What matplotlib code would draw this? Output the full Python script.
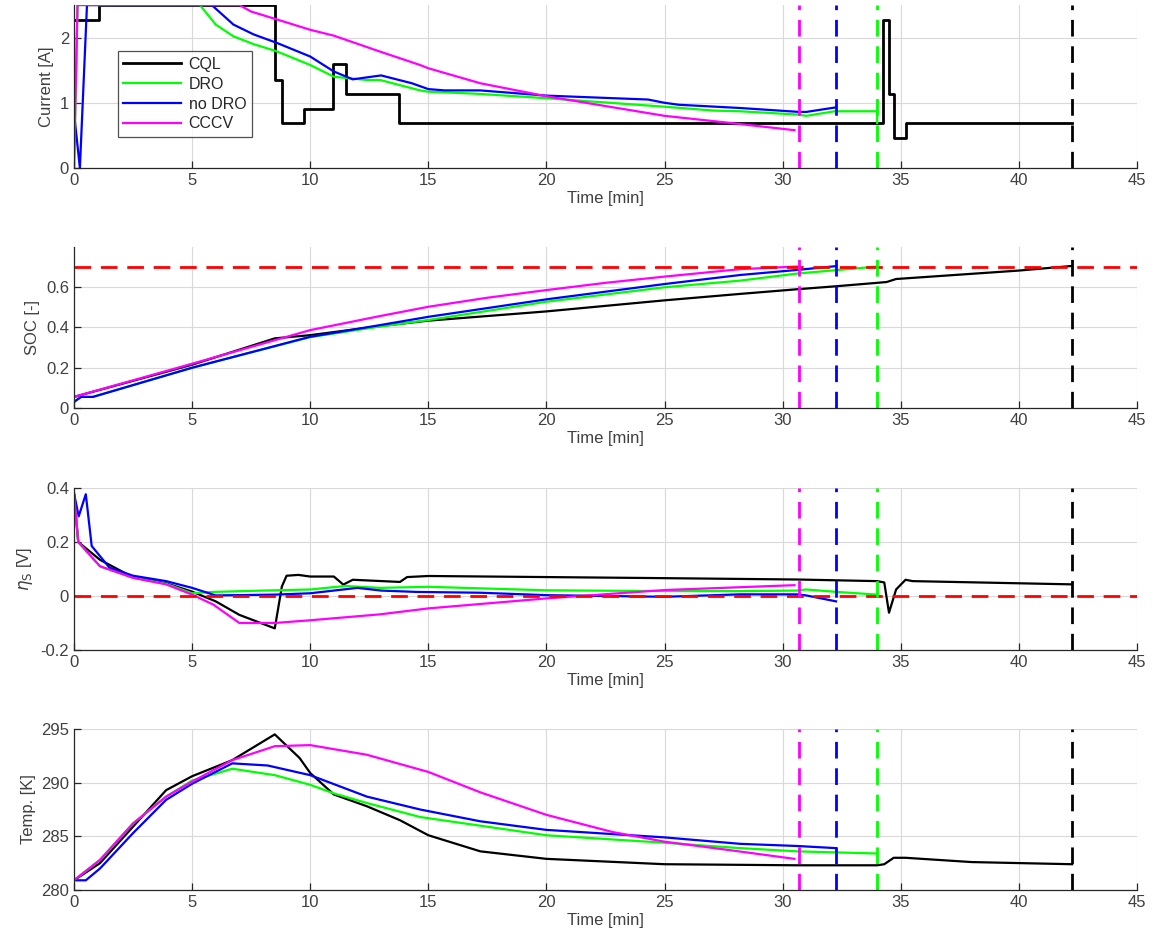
import matplotlib
matplotlib.use("Agg")
import matplotlib.pyplot as plt
from matplotlib.ticker import FormatStrFormatter

plt.rcParams['font.family'] = ['Liberation Sans', 'DejaVu Sans']
plt.rcParams['mathtext.fontset'] = 'dejavusans'
plt.rcParams['axes.unicode_minus'] = False

# ---- data ----
# end-of-charge times [min]
t_end_cccv = 30.68
t_end_nodro = 32.26
t_end_dro = 34.0
t_end_cql = 42.25

# Current [A]
cql_cur_t = [0, 1.05, 8.5, 8.8, 9.75, 10.97, 11.5, 13.76, 34.26, 34.5, 34.73, 35.22, 42.25]
cql_cur = [2.27, 2.5, 1.35, 0.69, 0.9, 1.6, 1.13, 0.69, 2.27, 1.13, 0.46, 0.69, 0.69]
dro_cur_t = [0, 0.15, 5.33, 6.0, 6.75, 7.6, 8.58, 10.0, 11.0, 12.4, 12.96, 14.65, 15.0, 17.0, 20.0, 25.0, 27.1, 28.2, 30.6, 31.0, 32.2, 34.0, 34.0]
dro_cur = [0, 2.5, 2.5, 2.2, 2.02, 1.9, 1.79, 1.58, 1.40, 1.35, 1.35, 1.19, 1.17, 1.14, 1.07, 0.94, 0.88, 0.87, 0.82, 0.80, 0.87, 0.87, 0.69]
nodro_cur_t = [0, 0.25, 0.55, 5.83, 6.75, 7.6, 8.58, 10.0, 11.0, 11.8, 13.0, 14.3, 15.0, 15.7, 17.2, 20.0, 24.3, 25.0, 25.6, 28.2, 30.7, 31.0, 32.26]
nodro_cur = [0.85, 0, 2.5, 2.5, 2.2, 2.05, 1.92, 1.71, 1.48, 1.36, 1.42, 1.30, 1.21, 1.19, 1.19, 1.11, 1.05, 1.0, 0.97, 0.92, 0.86, 0.86, 0.93]
cccv_cur_t = [0, 0.15, 7.0, 7.5, 8.58, 10.0, 11.0, 13.0, 14.65, 15.0, 17.2, 20.0, 22.5, 25.0, 27.8, 30.5]
cccv_cur = [0, 2.5, 2.5, 2.4, 2.28, 2.12, 2.03, 1.78, 1.58, 1.53, 1.30, 1.10, 0.95, 0.80, 0.69, 0.58]

# SOC [-]
cql_soc_t = [0, 5, 8.5, 10, 12.96, 15, 20, 25, 28.2, 30.6, 32.26, 34.0, 34.4, 34.8, 40, 42.25]
cql_soc = [0.055, 0.215, 0.346, 0.362, 0.407, 0.434, 0.48, 0.535, 0.567, 0.59, 0.605, 0.622, 0.626, 0.641, 0.683, 0.706]
dro_soc_t = [0, 0.3, 0.8, 5, 10, 12.96, 15, 20, 25, 28.2, 30.6, 34.0]
dro_soc = [0.03, 0.055, 0.055, 0.20, 0.352, 0.405, 0.437, 0.528, 0.60, 0.633, 0.668, 0.703]
nodro_soc_t = [0, 0.3, 0.8, 5, 10, 12.96, 15, 20, 25, 28.2, 30.6, 32.26]
nodro_soc = [0.03, 0.055, 0.055, 0.20, 0.354, 0.412, 0.453, 0.54, 0.616, 0.661, 0.686, 0.705]
cccv_soc_t = [0, 5, 10, 12.96, 15, 17.5, 20, 22.5, 25, 28.2, 30.6]
cccv_soc = [0.055, 0.22, 0.387, 0.457, 0.503, 0.548, 0.586, 0.622, 0.653, 0.69, 0.703]
soc_target = 0.7

# eta_S [V]
cql_eta_t = [0, 0.18, 1.1, 2.5, 3.9, 5.0, 6.0, 7.0, 8.5, 8.8, 9.0, 9.5, 10.0, 11.0, 11.4, 11.8, 13.8, 14.1, 15.0, 20, 25, 30.6, 34.0, 34.3, 34.5, 34.8, 35.2, 35.5, 42.25]
cql_eta = [0.38, 0.2, 0.134, 0.069, 0.047, 0.016, -0.02, -0.07, -0.12, 0.035, 0.075, 0.078, 0.072, 0.072, 0.042, 0.06, 0.052, 0.07, 0.074, 0.07, 0.066, 0.061, 0.055, 0.05, -0.062, 0.024, 0.06, 0.055, 0.043]
dro_eta_t = [0, 0.18, 1.1, 2.5, 3.9, 5.0, 5.9, 8.0, 10.0, 11.5, 12.96, 15, 20, 25, 28.2, 30.6, 31.0, 32.3, 34.0]
dro_eta = [0.38, 0.2, 0.11, 0.068, 0.045, 0.01, 0.015, 0.02, 0.024, 0.037, 0.03, 0.034, 0.021, 0.018, 0.018, 0.02, 0.024, 0.015, 0.005]
nodro_eta_t = [0, 0.2, 0.5, 0.75, 1.5, 2.5, 3.9, 5.0, 6.0, 8.5, 10, 12, 13, 14.5, 17.2, 20, 25, 28.2, 30.6, 31, 32.26]
nodro_eta = [0.38, 0.295, 0.377, 0.185, 0.105, 0.075, 0.055, 0.03, 0.002, 0.005, 0.01, 0.03, 0.02, 0.015, 0.012, 0.003, -0.003, 0.006, 0.006, 0.002, -0.02]
cccv_eta_t = [0, 0.18, 1.1, 2.5, 3.9, 5.0, 5.9, 7.0, 8.5, 10, 12.96, 15, 20, 25, 30.5]
cccv_eta = [0.38, 0.2, 0.11, 0.067, 0.043, 0.005, -0.032, -0.1, -0.1, -0.09, -0.068, -0.046, -0.009, 0.022, 0.04]

# Temperature [K]
cql_temp_t = [0, 1.1, 2.5, 3.9, 5.0, 6.7, 8.5, 9.55, 10, 11, 12.4, 13.8, 15, 17.2, 20, 25, 30.6, 34.0, 34.3, 34.7, 35.2, 38, 42.25]
cql_temp = [280.9, 282.5, 285.9, 289.3, 290.6, 292.1, 294.5, 292.3, 290.9, 288.9, 287.8, 286.5, 285.1, 283.6, 282.9, 282.4, 282.3, 282.3, 282.4, 283.0, 283.0, 282.6, 282.4]
dro_temp_t = [0, 1.1, 2.5, 3.9, 5.0, 6.7, 8.5, 10, 11, 12.4, 14.65, 20, 25, 28.2, 30.6, 34.0]
dro_temp = [280.9, 282.8, 286.2, 288.7, 290.2, 291.3, 290.7, 289.8, 289.0, 288.1, 286.8, 285.1, 284.4, 283.9, 283.6, 283.4]
nodro_temp_t = [0, 0.5, 1.1, 2.5, 3.9, 5.0, 6.7, 8.2, 10, 12.4, 14.65, 17.2, 20, 25, 28.2, 30.6, 32.26]
nodro_temp = [280.9, 280.9, 282.0, 285.3, 288.4, 289.9, 291.8, 291.6, 290.7, 288.7, 287.5, 286.4, 285.6, 284.9, 284.3, 284.1, 283.9]
cccv_temp_t = [0, 1.1, 2.5, 3.9, 5.0, 6.7, 8.5, 10, 12.4, 15, 17.2, 20, 22.8, 25, 27.8, 30.5]
cccv_temp = [280.9, 282.8, 286.2, 288.7, 290.1, 292.1, 293.4, 293.5, 292.6, 291.0, 289.1, 287.0, 285.4, 284.5, 283.7, 282.9]

c_cql, c_dro, c_nodro, c_cccv = 'k', '#00ff00', '#0000ff', '#ff00ff'
lw = 1.6
dash = (6, 3.5)
txt_col = '#404040'

fig = plt.figure(figsize=(11.56, 9.49), dpi=100)
left, width = 0.064, 0.9196
rows = [(0.823, 0.1717), (0.5701, 0.1696), (0.3151, 0.1707), (0.0622, 0.1696)]
axes = [fig.add_axes([left, b, width, h]) for b, h in rows]


def style_axis(ax, ylim, yticks, ylabel):
    ax.set_xlim(0, 45)
    ax.set_ylim(*ylim)
    ax.set_xticks(range(0, 46, 5))
    ax.set_yticks(yticks)
    ax.yaxis.set_major_formatter(FormatStrFormatter('%g'))
    ax.grid(True, color='#d9d9d9', linewidth=0.8)
    ax.set_axisbelow(True)
    for s in ['top', 'right']:
        ax.spines[s].set_visible(False)
    for s in ['left', 'bottom']:
        ax.spines[s].set_color('#262626')
        ax.spines[s].set_linewidth(0.9)
    ax.tick_params(direction='in', length=5, width=0.9, colors='#262626',
                   labelcolor=txt_col, labelsize=12, top=False, right=False)
    ax.set_xlabel('Time [min]', fontsize=12, color=txt_col, labelpad=2)
    ax.set_ylabel(ylabel, fontsize=12, color=txt_col, labelpad=4)


def end_lines(ax):
    for t, c in [(t_end_cccv, c_cccv), (t_end_nodro, c_nodro),
                 (t_end_dro, c_dro), (t_end_cql, c_cql)]:
        ax.axvline(t, color=c, lw=2, dashes=dash)


# Current
ax = axes[0]
ax.plot(cql_cur_t, cql_cur, color=c_cql, lw=2, drawstyle='steps-post', label='CQL')
ax.plot(dro_cur_t, dro_cur, color=c_dro, lw=lw, label='DRO')
ax.plot(nodro_cur_t, nodro_cur, color=c_nodro, lw=lw, label='no DRO')
ax.plot(cccv_cur_t, cccv_cur, color=c_cccv, lw=lw, label='CCCV')
end_lines(ax)
style_axis(ax, (0, 2.5), [0, 1, 2], 'Current [A]')
leg = ax.legend(loc='upper left', bbox_to_anchor=(0.041, 0.715), fontsize=11.5,
                frameon=True, fancybox=False, handlelength=3.6,
                borderpad=0.35, labelspacing=0.3, handletextpad=0.5,
                borderaxespad=0)
leg.get_frame().set_edgecolor('#262626')
leg.get_frame().set_linewidth(0.9)
for t in leg.get_texts():
    t.set_color('#262626')

# SOC
ax = axes[1]
ax.plot(cql_soc_t, cql_soc, color=c_cql, lw=lw)
ax.plot(dro_soc_t, dro_soc, color=c_dro, lw=lw)
ax.plot(nodro_soc_t, nodro_soc, color=c_nodro, lw=lw)
ax.plot(cccv_soc_t, cccv_soc, color=c_cccv, lw=lw)
ax.axhline(soc_target, color='#ff0000', lw=2, dashes=dash)
end_lines(ax)
style_axis(ax, (0, 0.8), [0, 0.2, 0.4, 0.6], 'SOC [-]')

# eta_S
ax = axes[2]
ax.plot(cql_eta_t, cql_eta, color=c_cql, lw=lw)
ax.plot(dro_eta_t, dro_eta, color=c_dro, lw=lw)
ax.plot(nodro_eta_t, nodro_eta, color=c_nodro, lw=lw)
ax.plot(cccv_eta_t, cccv_eta, color=c_cccv, lw=lw)
ax.axhline(0, color='#ff0000', lw=2, dashes=dash)
end_lines(ax)
style_axis(ax, (-0.2, 0.4), [-0.2, 0, 0.2, 0.4], r'$\eta_{\mathrm{S}}$ [V]')

# Temperature
ax = axes[3]
ax.plot(cql_temp_t, cql_temp, color=c_cql, lw=lw)
ax.plot(dro_temp_t, dro_temp, color=c_dro, lw=lw)
ax.plot(nodro_temp_t, nodro_temp, color=c_nodro, lw=lw)
ax.plot(cccv_temp_t, cccv_temp, color=c_cccv, lw=lw)
end_lines(ax)
style_axis(ax, (280, 295), [280, 285, 290, 295], 'Temp. [K]')

fig.savefig('out.png', dpi=100)
